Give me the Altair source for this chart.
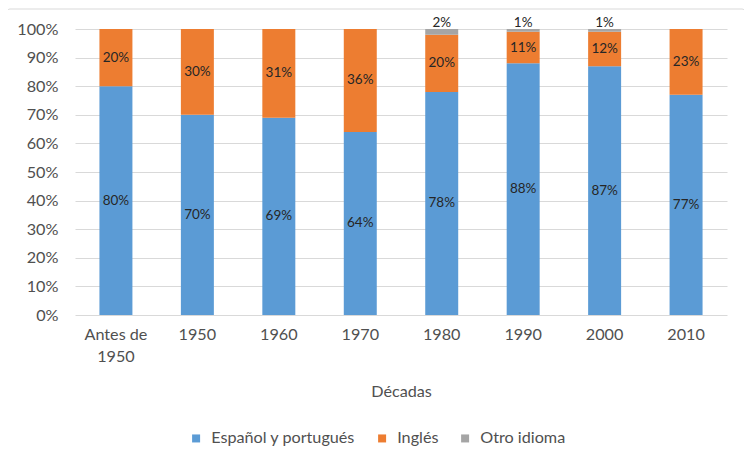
import altair as alt
import pandas as pd

decades = ["Antes de 1950", "1950", "1960", "1970", "1980", "1990", "2000", "2010"]
espanol = [80, 70, 69, 64, 78, 88, 87, 77]
ingles = [20, 30, 31, 36, 20, 11, 12, 23]
otro = [0, 0, 0, 0, 2, 1, 1, 0]
series = ["Español y portugués", "Inglés", "Otro idioma"]
colors = ["#5B9BD5", "#ED7D31", "#A5A5A5"]

rows = []
for i, d in enumerate(decades):
    for k, (s, vals) in enumerate(zip(series, [espanol, ingles, otro])):
        if vals[i] > 0:
            rows.append({"decade": d, "serie": s, "value": vals[i], "ord": k})
df = pd.DataFrame(rows)

FONT = "Lato"
TXT = "#505050"
FS = 16.2

base = alt.Chart(df).transform_stack(
    stack="value", groupby=["decade"], as_=["y0", "y1"],
    sort=[alt.SortField("ord", order="ascending")]
).transform_calculate(
    mid="(datum.y0 + datum.y1) / 2",
    lab="datum.value + '%'"
)

x_axis = alt.Axis(
    title="Décadas", labelAngle=0, ticks=False, domain=False,
    labelFont=FONT, labelFontSize=FS, labelColor=TXT, labelPadding=11,
    labelLineHeight=22,
    labelExpr="datum.label == 'Antes de 1950' ? ['Antes de', '1950'] : datum.label",
    titleFont=FONT, titleFontSize=FS, titleColor=TXT, titleFontWeight="normal",
    titleY=76, titleBaseline="middle",
)
x_scale = alt.Scale(paddingInner=0.595, paddingOuter=0.3)
y_axis = alt.Axis(
    title=None, values=list(range(0, 101, 10)), labelOverlap=False,
    labelExpr="datum.value + '%'", ticks=False, domain=False,
    labelFont=FONT, labelFontSize=FS, labelColor=TXT, labelPadding=17,
    gridColor="#d9d9d9", gridWidth=1,
)
y_scale = alt.Scale(domain=[0, 100])

bars = base.mark_bar().encode(
    x=alt.X("decade:N", sort=decades, scale=x_scale, axis=x_axis),
    y=alt.Y("y0:Q", scale=y_scale, axis=y_axis),
    y2="y1:Q",
    color=alt.Color(
        "serie:N",
        scale=alt.Scale(domain=series, range=colors),
        legend=alt.Legend(
            title=None, orient="none", legendX=113, legendY=401,
            direction="horizontal", symbolType="square", symbolSize=64,
            symbolStrokeWidth=0, labelFont=FONT, labelFontSize=FS,
            labelColor=TXT, columnPadding=18, labelOffset=7,
        ),
    ),
)

inner = base.transform_filter("datum.ord < 2").mark_text(
    font=FONT, fontSize=13.5, color="#262626", baseline="middle"
).encode(
    x=alt.X("decade:N", sort=decades, scale=x_scale, axis=x_axis),
    y=alt.Y("mid:Q", scale=y_scale, axis=y_axis),
    text="lab:N",
)

top = base.transform_filter("datum.ord == 2").mark_text(
    font=FONT, fontSize=13.5, color="#262626", baseline="alphabetic", dy=-2
).encode(
    x=alt.X("decade:N", sort=decades, scale=x_scale, axis=x_axis),
    y=alt.Y("y1:Q", scale=y_scale, axis=y_axis),
    text="lab:N",
)

border = alt.Chart(pd.DataFrame({"a": [0]})).mark_rect(
    filled=False, stroke="#d9d9d9", strokeWidth=1, cornerRadius=3
).encode(
    x=alt.value(-68), x2=alt.value(670), y=alt.value(-20), y2=alt.value(438)
)

chart = alt.layer(border, bars, inner, top).properties(
    width=652, height=286,
    autosize=alt.AutoSizeParams(type="none"),
    padding={"left": 67, "top": 21, "right": 17, "bottom": 149},
).configure_view(stroke=None)

chart.save("out.html", embed_options={"renderer": "svg", "actions": False})
